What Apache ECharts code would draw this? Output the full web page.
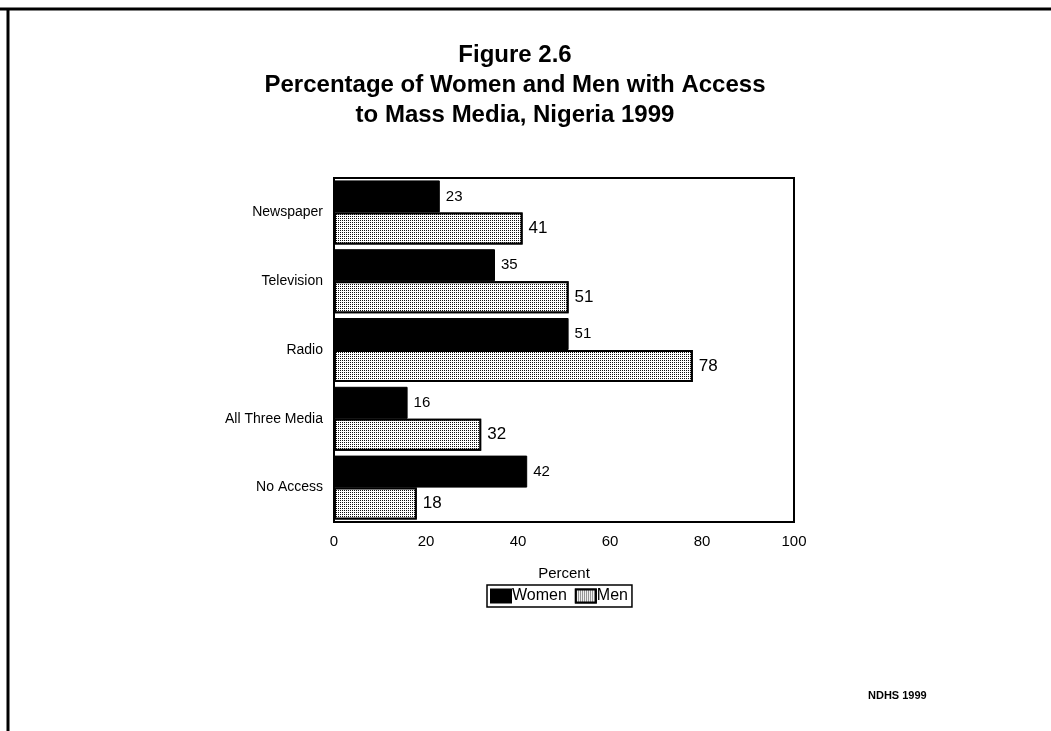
<!DOCTYPE html>
<html>
<head>
<meta charset="utf-8">
<script src="https://cdn.jsdelivr.net/npm/echarts@6/dist/echarts.min.js"></script>
<style>
html,body{margin:0;padding:0;background:#fff;}
#chart{width:1051px;height:731px;}
</style>
</head>
<body>
<div id="chart"></div>
<script>
const categories = ['Newspaper', 'Television', 'Radio', 'All Three Media', 'No Access'];
const women = [23, 35, 51, 16, 42];
const men = [41, 51, 78, 32, 18];
const xTicks = [0, 20, 40, 60, 80, 100];
const titleLines = ['Figure 2.6', 'Percentage of Women and Men with Access', 'to Mass Media, Nigeria 1999'];
const sourceNote = 'NDHS 1999';

const FONT = '"Liberation Sans", Arial, Helvetica, sans-serif';
const chart = echarts.init(document.getElementById('chart'));

const menDecal = {
  symbol: 'rect',
  symbolSize: 1,
  dashArrayX: [1, 1],
  dashArrayY: [1, 1],
  color: '#111',
  backgroundColor: '#fff'
};

chart.setOption({
  backgroundColor: '#fff',
  animation: false,
  textStyle: { fontFamily: FONT, color: '#000' },
  title: {
    text: titleLines.join('\n'),
    left: 510,
    textAlign: 'center',
    top: 35,
    textStyle: { fontFamily: FONT, fontSize: 24, fontWeight: 'bold', lineHeight: 30, color: '#000' }
  },
  legend: {
    data: ['Women', 'Men'],
    left: 487,
    top: 585,
    icon: 'rect',
    itemWidth: 20,
    itemHeight: 13,
    itemGap: 8,
    padding: [3, 4, 3, 3],
    borderColor: '#000',
    borderWidth: 1.5,
    borderRadius: 0,
    textStyle: { fontFamily: FONT, fontSize: 16, color: '#000', padding: [0, 0, 0, -4] }
  },
  grid: {
    left: 334, right: 257, top: 178, bottom: 209,
    show: true, borderColor: '#000', borderWidth: 2, containLabel: false
  },
  xAxis: {
    type: 'value',
    min: 0, max: 100, interval: 20,
    name: 'Percent',
    nameLocation: 'middle',
    nameGap: 44,
    nameTextStyle: { fontFamily: FONT, fontSize: 15, color: '#000' },
    axisLine: { show: false },
    axisTick: { show: false },
    splitLine: { show: false },
    axisLabel: {
      fontFamily: FONT, fontSize: 15, color: '#000', margin: 12,
      formatter: v => xTicks.includes(v) ? String(v) : ''
    }
  },
  yAxis: {
    type: 'category',
    data: categories,
    inverse: true,
    axisLine: { show: false },
    axisTick: { show: false },
    splitLine: { show: false },
    axisLabel: { fontFamily: FONT, fontSize: 14, color: '#000', margin: 11 }
  },
  series: [
    {
      name: 'Women', type: 'bar', data: women,
      barGap: '0%', barCategoryGap: '7%',
      itemStyle: { color: '#000', borderColor: '#000', borderWidth: 1 },
      label: { show: true, position: 'right', distance: 6, fontFamily: FONT, fontSize: 15, color: '#000' }
    },
    {
      name: 'Men', type: 'bar', data: men,
      barGap: '0%', barCategoryGap: '7%',
      itemStyle: { color: '#fff', borderColor: '#000', borderWidth: 2, decal: menDecal },
      label: { show: true, position: 'right', distance: 6, fontFamily: FONT, fontSize: 17, color: '#000' }
    }
  ],
  graphic: [
    { type: 'line', shape: { x1: 0, y1: 9, x2: 1051, y2: 9 }, style: { stroke: '#000', lineWidth: 3 } },
    { type: 'line', shape: { x1: 8, y1: 8, x2: 8, y2: 731 }, style: { stroke: '#000', lineWidth: 3 } },
    { type: 'text', left: 868, top: 690, style: { text: sourceNote, font: 'bold 11px ' + FONT, fill: '#000' } }
  ]
});
</script>
</body>
</html>
